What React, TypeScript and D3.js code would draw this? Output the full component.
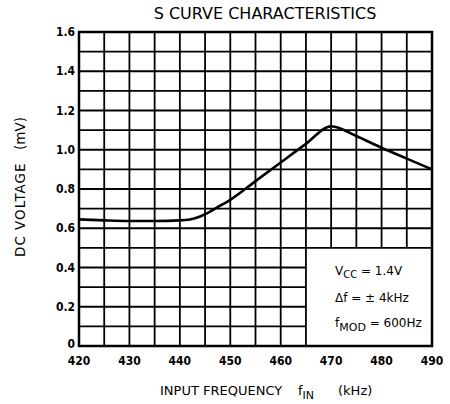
import React, { useEffect, useRef } from 'react';
import * as d3 from 'd3';

const freq = [420, 425, 430, 435, 440, 442, 444, 446, 448, 450, 455, 460, 465, 470, 475, 480, 485, 490];
const volt = [0.645, 0.64, 0.637, 0.637, 0.64, 0.645, 0.66, 0.685, 0.715, 0.745, 0.84, 0.935, 1.03, 1.12, 1.07, 1.01, 0.955, 0.9];
const xTicks = [420, 430, 440, 450, 460, 470, 480, 490];
const yTicks = [0, 0.2, 0.4, 0.6, 0.8, 1.0, 1.2, 1.4, 1.6];
const xGrid = d3.range(420, 491, 5);
const yGrid = d3.range(0, 17).map(i => i / 10);

const TICK_FONT = "'DejaVu Sans Condensed', 'DejaVu Sans', sans-serif";
const FONT = "'DejaVu Sans', sans-serif";

const App = () => {
  const svgRef = useRef<SVGSVGElement>(null);

  useEffect(() => {
    const svg = d3.select(svgRef.current);
    svg.selectAll('*').remove();

    const x = d3.scaleLinear().domain([420, 490]).range([79, 432]);
    const y = d3.scaleLinear().domain([0, 1.6]).range([346, 32]);

    // legend box area: 465-490 kHz, 0-0.5 mV has no grid
    const boxX = 465, boxY = 0.5;

    const g = svg.append('g');

    xGrid.forEach(f => {
      const bottom = f > boxX && f < 490 ? y(boxY) : y(0);
      g.append('line')
        .attr('x1', x(f)).attr('x2', x(f))
        .attr('y1', y(1.6)).attr('y2', bottom)
        .attr('stroke', '#000').attr('stroke-width', 1.8);
    });
    yGrid.forEach(v => {
      const right = v < boxY && v > 0 ? x(boxX) : x(490);
      g.append('line')
        .attr('x1', x(420)).attr('x2', right)
        .attr('y1', y(v)).attr('y2', y(v))
        .attr('stroke', '#000').attr('stroke-width', 1.8);
    });

    g.append('rect')
      .attr('x', x(420)).attr('y', y(1.6))
      .attr('width', x(490) - x(420)).attr('height', y(0) - y(1.6))
      .attr('fill', 'none').attr('stroke', '#000').attr('stroke-width', 2.5);

    const line = d3.line<number>()
      .curve(d3.curveMonotoneX)
      .x((_, i) => x(freq[i]))
      .y(d => y(d));

    g.append('path')
      .datum(volt)
      .attr('fill', 'none')
      .attr('stroke', '#000')
      .attr('stroke-width', 2.6)
      .attr('d', line);

    // tick labels
    yTicks.forEach(v => {
      g.append('text')
        .attr('x', 75).attr('y', v === 0 ? y(v) + 2 : y(v) + 4)
        .attr('text-anchor', 'end')
        .style('font-family', TICK_FONT).style('font-size', '12px').style('font-weight', 'bold')
        .text(v === 0 ? '0' : v.toFixed(1));
    });
    xTicks.forEach(f => {
      g.append('text')
        .attr('x', x(f)).attr('y', 365)
        .attr('text-anchor', 'middle')
        .style('font-family', TICK_FONT).style('font-size', '12px').style('font-weight', 'bold')
        .text(f);
    });

    // title
    g.append('text')
      .attr('x', 265).attr('y', 19)
      .attr('text-anchor', 'middle')
      .style('font-family', FONT).style('font-size', '16px')
      .text('S CURVE CHARACTERISTICS');

    // x axis title
    const xt = g.append('text')
      .attr('x', 160).attr('y', 395)
      .style('font-family', FONT).style('font-size', '13px');
    xt.append('tspan').text('INPUT FREQUENCY');
    xt.append('tspan').attr('x', 298).text('f');
    xt.append('tspan').attr('dy', 4).style('font-size', '11px').text('IN');
    xt.append('tspan').attr('x', 338).attr('dy', -4).text('(kHz)');

    // y axis title
    const yt = g.append('text')
      .attr('transform', `translate(25, 257) rotate(-90)`)
      .style('font-family', FONT).style('font-size', '13.5px');
    yt.append('tspan').style('letter-spacing', '1px').text('DC VOLTAGE');
    yt.append('tspan').attr('x', 107).text('(mV)');

    // legend
    const lg = g.append('g').style('font-family', FONT).style('font-size', '12px');
    const l1 = lg.append('text').attr('x', 335).attr('y', 275);
    l1.append('tspan').text('V');
    l1.append('tspan').attr('dy', 3).style('font-size', '10px').text('CC');
    l1.append('tspan').attr('dy', -3).text(' = 1.4V');
    lg.append('text').attr('x', 335).attr('y', 302).text('\u0394f =  \u00b1 4kHz');
    const l3 = lg.append('text').attr('x', 335).attr('y', 327);
    l3.append('tspan').text('f');
    l3.append('tspan').attr('dy', 4).style('font-size', '11px').text('MOD');
    l3.append('tspan').attr('dy', -4).text(' = 600Hz');
  }, []);

  return (
    <svg ref={svgRef} width={450} height={404} style={{ position: 'absolute', left: 0, top: 0, background: '#fff' }} />
  );
};

export default App;
